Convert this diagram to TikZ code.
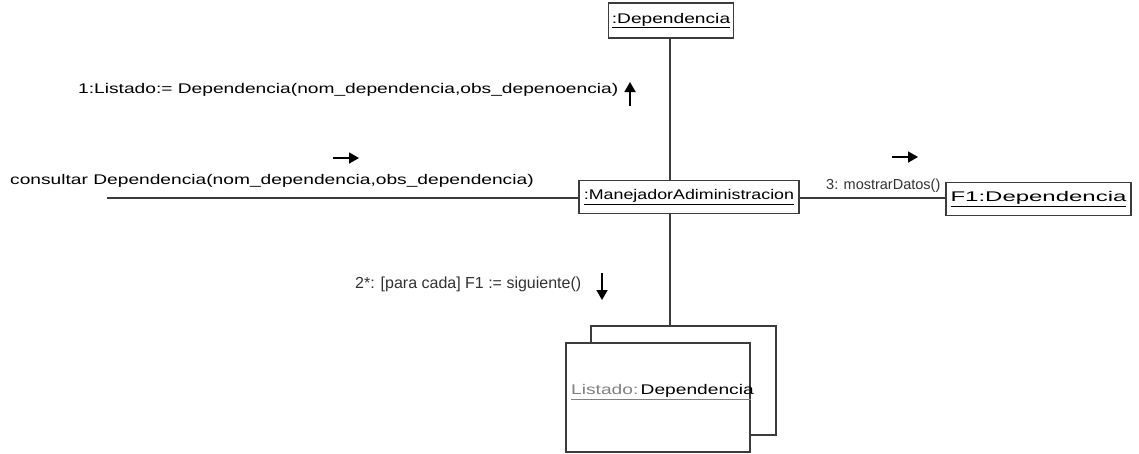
\documentclass[tikz,border=0pt]{standalone}
\usepackage{fontspec}
\setmainfont{Liberation Sans}
\newfontfamily\pixfont[FakeStretch=1.37]{Liberation Sans}
\usetikzlibrary{arrows.meta}
\definecolor{lgray}{RGB}{60,60,60}
\definecolor{tgray}{RGB}{50,50,50}
\begin{document}
\begin{tikzpicture}[x=1pt,y=-1pt,
  obj/.style={draw=lgray,line width=1.6pt,fill=white,inner sep=0pt,font=\pixfont\fontsize{14}{16}\selectfont},
  link/.style={draw=lgray,line width=1.4pt},
  msg/.style={draw=black,line width=1.8pt,-{Triangle[length=10pt,width=11pt]}},
  pixlbl/.style={inner sep=0pt,anchor=west,font=\pixfont\fontsize{14}{16}\selectfont},
  arlbl/.style={inner sep=0pt,anchor=west,text=tgray,font=\fontsize{14.5}{16}\selectfont}]
\useasboundingbox (0,0) rectangle (1139,453);
% objects
\node[obj,minimum width=125pt,minimum height=35pt] (dep) at (671,20.5) {\underline{:Dependencia}};
\node[obj,minimum width=220pt,minimum height=33pt] (mgr) at (689,197) {\underline{\scalebox{0.93}[1]{:ManejadorAdiministracion}}};
\node[obj,minimum width=185pt,minimum height=33pt] (f1) at (1038.5,199) {\underline{\scalebox{1.25}[1]{F1:Dependencia}}};
\node[obj,minimum width=185pt,minimum height=109pt] (back) at (683.5,380.5) {};
\node[obj,minimum width=184pt,minimum height=109pt] (front) at (658,397.5) {};
\node[inner sep=0pt,anchor=west,font=\pixfont\fontsize{14}{16}\selectfont] (lst) at (571,391) {\textcolor{gray}{Listado:}\,Dependencia};
\draw[draw=gray,line width=1.3pt] (lst.south west) ++(0,2) coordinate (ulA) -- (ulA -| front.east);
% links
\coordinate (lend) at (107,198);
\draw[link] (dep.south -| 670,0) -- (mgr.north -| 670,0);
\draw[link] (lend) -- (mgr.west |- lend);
\draw[link] (mgr.east |- 0,198) -- (f1.west |- 0,198);
\draw[link] (mgr.south -| 670,0) -- (back.north -| 670,0);
% labels
\node[pixlbl] (l1) at (78,90) {1:Listado:= Dependencia(nom\_dependencia,obs\_depenoencia)};
\coordinate (a1s) at (630,106); \coordinate (a1e) at (630,82);
\draw[msg] (a1s) -- (a1e);
\node[pixlbl] (l0) at (10,181) {consultar Dependencia(nom\_dependencia,obs\_dependencia)};
\coordinate (a0s) at (333,158); \coordinate (a0e) at (359,158);
\draw[msg] (a0s) -- (a0e);
\node[arlbl] (l3) at (826,186) {3: mostrarDatos()};
\coordinate (a3s) at (892,157); \coordinate (a3e) at (918,157);
\draw[msg] (a3s) -- (a3e);
\node[arlbl,font=\fontsize{16}{18}\selectfont] (l2) at (355,284) {2*: [para cada] F1 := siguiente()};
\coordinate (a2s) at (602,273); \coordinate (a2e) at (602,300);
\draw[msg] (a2s) -- (a2e);
\end{tikzpicture}
\end{document}
